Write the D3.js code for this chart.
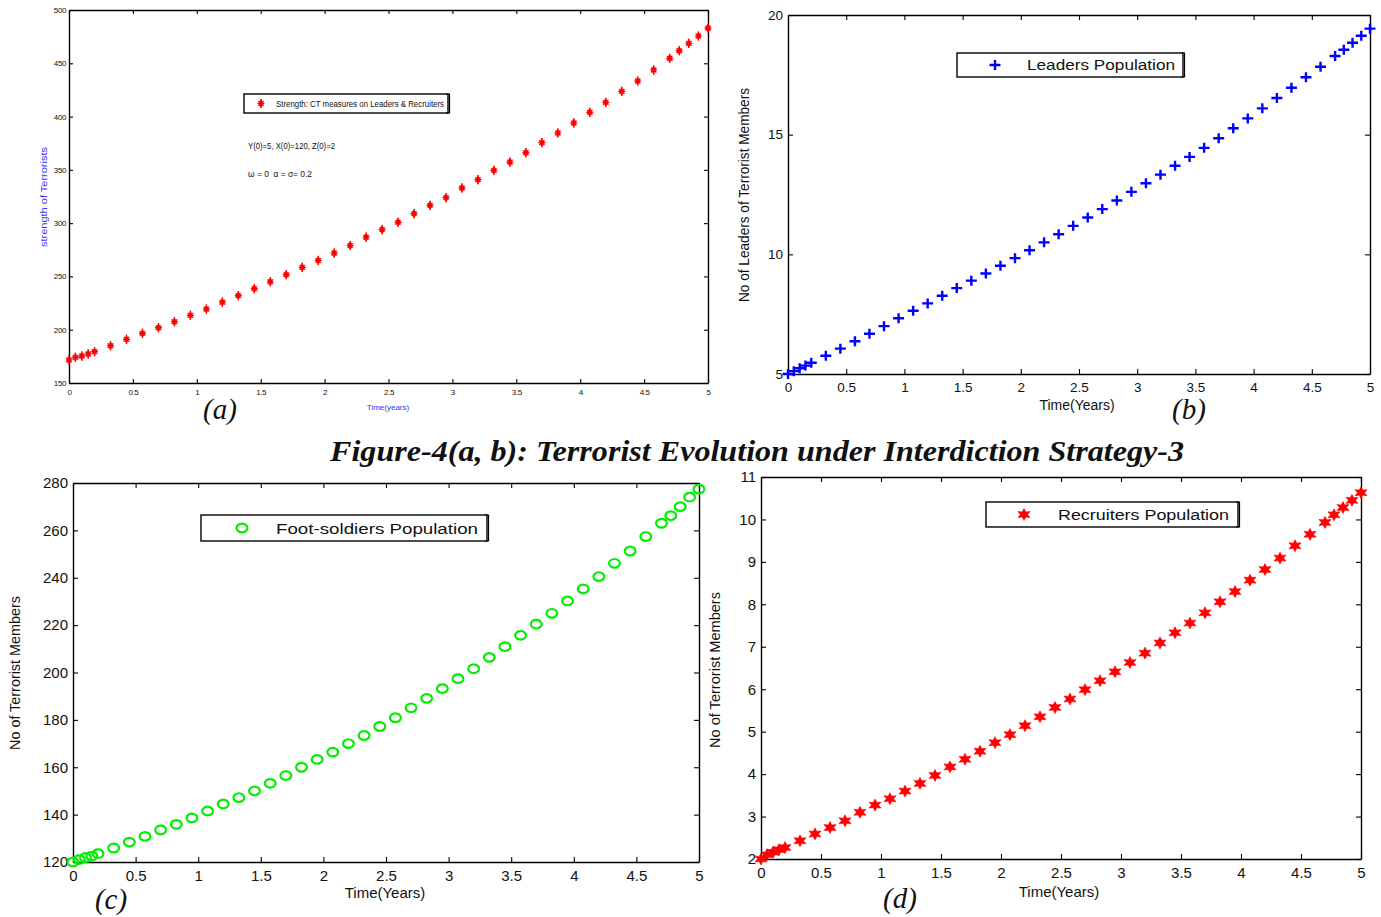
<!DOCTYPE html>
<html>
<head>
<meta charset="utf-8">
<script src="https://cdn.jsdelivr.net/npm/d3@7"></script>
<style>
  html, body { margin: 0; padding: 0; background: #fff; }
  svg { display: block; }
  text { font-family: "Liberation Sans", Arial, sans-serif; }
</style>
</head>
<body>
<svg id="fig" width="1381" height="917"></svg>
<script>
// Solver output times (years)
const timeYears = [0, 0.05, 0.1, 0.15, 0.2, 0.325, 0.45, 0.575, 0.7, 0.825, 0.95, 1.075, 1.2, 1.325, 1.45,
  1.575, 1.7, 1.825, 1.95, 2.075, 2.2, 2.325, 2.45, 2.575, 2.7, 2.825, 2.95, 3.075, 3.2, 3.325, 3.45,
  3.575, 3.7, 3.825, 3.95, 4.075, 4.2, 4.325, 4.45, 4.575, 4.7, 4.775, 4.85, 4.925, 5];

// Overall strength under CT measures on leaders & recruiters
const strengthTotal = [171.6, 174.1, 175.3, 177.2, 179.4, 185, 191, 196.6, 201.9, 207.5, 213.5, 219.3, 225.8, 232, 238.5,
  245, 251.6, 258.5, 265, 271.9, 279, 286.8, 293.9, 300.8, 308.9, 316.7, 323.9, 333, 340.8, 349.5, 357.3,
  366.1, 375.5, 384.6, 394, 404, 413.3, 423.6, 433.4, 443.7, 454.7, 461.8, 468.7, 475.6, 483];

// Leaders population Y(t)
const leaders = [5.0, 5.12, 5.24, 5.35, 5.47, 5.76, 6.06, 6.37, 6.68, 7.0, 7.33, 7.64, 7.95, 8.27, 8.59,
  8.9, 9.2, 9.52, 9.84, 10.17, 10.5, 10.84, 11.19, 11.54, 11.89, 12.25, 12.61, 12.97, 13.33, 13.7, 14.07,
  14.45, 14.85, 15.27, 15.68, 16.1, 16.53, 16.96, 17.4, 17.84, 18.29, 18.55, 18.84, 19.13, 19.43];

// Foot-soldiers population X(t)
const footSoldiers = [120, 121.0, 121.9, 122.5, 123.5, 125.9, 128.4, 130.8, 133.5, 135.9, 138.6, 141.5, 144.5, 147.2, 150.0,
  153.2, 156.5, 160.0, 163.3, 166.4, 170.0, 173.4, 177.2, 180.9, 185.1, 189.1, 193.2, 197.4, 201.6, 206.4, 210.9,
  215.7, 220.4, 225.0, 230.2, 235.3, 240.5, 246.1, 251.3, 257.4, 263.0, 266.2, 270.0, 274.0, 277.4];

// Recruiters population Z(t)
const recruiters = [2.0, 2.1, 2.16, 2.22, 2.27, 2.43, 2.59, 2.74, 2.9, 3.1, 3.27, 3.42, 3.6, 3.78, 3.97,
  4.17, 4.35, 4.54, 4.74, 4.93, 5.14, 5.35, 5.57, 5.77, 5.99, 6.2, 6.41, 6.63, 6.85, 7.09, 7.33,
  7.56, 7.8, 8.06, 8.3, 8.57, 8.82, 9.09, 9.38, 9.65, 9.93, 10.11, 10.28, 10.45, 10.63];

// Tick values
const timeTicks = [0, 0.5, 1, 1.5, 2, 2.5, 3, 3.5, 4, 4.5, 5];
const strengthTicks = [150, 200, 250, 300, 350, 400, 450, 500];
const leaderTicks = [5, 10, 15, 20];
const footTicks = [120, 140, 160, 180, 200, 220, 240, 260, 280];
const recruiterTicks = [2, 3, 4, 5, 6, 7, 8, 9, 10, 11];

const svg = d3.select("#fig");

// Hexagram (six-pointed star) path centred at origin
function hexagram(rx, ry, inner) {
  const pts = [];
  for (let i = 0; i < 12; i++) {
    const a = -Math.PI / 2 + i * Math.PI / 6;
    const r = i % 2 === 0 ? 1 : inner;
    pts.push([Math.cos(a) * rx * r, Math.sin(a) * ry * r]);
  }
  return "M" + pts.map(p => p[0].toFixed(2) + "," + p[1].toFixed(2)).join("L") + "Z";
}

function drawMarker(g, kind, color) {
  if (kind === "plus") {
    g.append("path").attr("d", "M-5.5,0H5.5M0,-5V5")
      .attr("stroke", color).attr("stroke-width", 2.4).attr("fill", "none");
  } else if (kind === "circle") {
    g.append("ellipse").attr("rx", 5.4).attr("ry", 4.3)
      .attr("stroke", color).attr("stroke-width", 2.2).attr("fill", "none");
  } else if (kind === "hexSmall") {
    g.append("path").attr("d", hexagram(3.2, 4.6, 0.55)).attr("fill", color)
      .attr("stroke", color).attr("stroke-width", 0.5);
    g.append("path").attr("d", "M-3.5,0H3.5M0,-4.6V4.6")
      .attr("stroke", color).attr("stroke-width", 1.2).attr("fill", "none");
  } else {
    g.append("path").attr("d", hexagram(7, 6, 0.5)).attr("fill", color)
      .attr("stroke", color).attr("stroke-width", 0.6);
  }
}

function panel(cfg) {
  const x = d3.scaleLinear().domain([0, 5]).range([cfg.left, cfg.right]);
  const y = d3.scaleLinear().domain(cfg.yDomain).range([cfg.bottom, cfg.top]);
  const g = svg.append("g");
  const fs = cfg.tickFont;
  const tl = cfg.tickLen;
  const fmt = d => String(d);

  const bottom = g.append("g").attr("transform", `translate(0,${cfg.bottom})`)
    .call(d3.axisBottom(x).tickValues(timeTicks).tickFormat(fmt).tickSizeInner(-tl).tickSizeOuter(0).tickPadding(cfg.xPad));
  const top = g.append("g").attr("transform", `translate(0,${cfg.top})`)
    .call(d3.axisTop(x).tickValues(timeTicks).tickFormat("").tickSizeInner(-tl).tickSizeOuter(0));
  const left = g.append("g").attr("transform", `translate(${cfg.left},0)`)
    .call(d3.axisLeft(y).tickValues(cfg.yTicks).tickFormat(fmt).tickSizeInner(-tl).tickSizeOuter(0).tickPadding(cfg.yPad));
  const right = g.append("g").attr("transform", `translate(${cfg.right},0)`)
    .call(d3.axisRight(y).tickValues(cfg.yTicks).tickFormat("").tickSizeInner(-tl).tickSizeOuter(0));

  [bottom, top, left, right].forEach(a => {
    a.selectAll(".domain").attr("stroke", "#000").attr("stroke-width", 1.4);
    a.selectAll(".tick line").attr("stroke", "#000").attr("stroke-width", 1.1);
    a.selectAll("text").attr("fill", "#111").style("font-size", fs + "px")
      .style("font-family", "'Liberation Sans', Arial, sans-serif");
  });
  if (cfg.narrowTicks) {
    [bottom, left].forEach(a => a.selectAll("text").style("letter-spacing", "-0.4px"));
  }

  // data markers
  const pts = g.append("g");
  timeYears.forEach((t, i) => {
    const m = pts.append("g").attr("transform", `translate(${x(t)},${y(cfg.values[i])})`);
    drawMarker(m, cfg.marker, cfg.color);
  });

  // axis titles
  g.append("text").attr("x", cfg.xTitle[0]).attr("y", cfg.xTitle[1])
    .attr("text-anchor", "middle").attr("fill", cfg.titleColor)
    .style("font-size", cfg.xTitleFont + "px").text(cfg.xTitleText);
  g.append("text").attr("transform", `translate(${cfg.yTitle[0]},${cfg.yTitle[1]}) rotate(-90)`)
    .attr("text-anchor", "middle").attr("fill", cfg.titleColor)
    .attr("textLength", cfg.yTitleLen).attr("lengthAdjust", "spacingAndGlyphs")
    .style("font-size", cfg.yTitleFont + "px").text(cfg.yTitleText);

  // legend
  const L = cfg.legend;
  g.append("rect").attr("x", L.x).attr("y", L.y).attr("width", L.w).attr("height", L.h)
    .attr("fill", "#fff").attr("stroke", "#000").attr("stroke-width", 1.4);
  g.append("path").attr("d", `M${L.x + L.w - 2},${L.y}H${L.x + L.w + 1.5}V${L.y + L.h}H${L.x + L.w - 2}`)
    .attr("fill", "none").attr("stroke", "#000").attr("stroke-width", 1.2);
  const lm = g.append("g").attr("transform", `translate(${L.mx},${L.y + L.h / 2})`);
  drawMarker(lm, cfg.marker, cfg.color);
  g.append("text").attr("x", L.tx).attr("y", L.y + L.h / 2).attr("dy", "0.36em")
    .attr("textLength", L.tlen).attr("lengthAdjust", "spacingAndGlyphs")
    .attr("fill", "#111").style("font-size", L.font + "px").text(L.text);

  return g;
}

// (a) overall strength
const ga = panel({
  left: 69, right: 708, top: 10, bottom: 383, yDomain: [150, 500], yTicks: strengthTicks,
  tickFont: 8, tickLen: 4, xPad: 6, yPad: 3, narrowTicks: true,
  values: strengthTotal, marker: "hexSmall", color: "#ff0000",
  xTitle: [388, 410], xTitleText: "Time(years)", xTitleFont: 8, titleColor: "#3333ff",
  yTitle: [47, 197], yTitleText: "strength of Terrorists", yTitleFont: 8.5, yTitleLen: 100,
  legend: { x: 244, y: 94, w: 204, h: 19, mx: 261, tx: 276, tlen: 168, font: 8.5,
    text: "Strength: CT measures on Leaders & Recruiters" }
});
ga.append("text").attr("x", 248).attr("y", 149).attr("fill", "#111")
  .attr("textLength", 87).attr("lengthAdjust", "spacingAndGlyphs")
  .style("font-size", "8.5px").text("Y(0)=5, X(0)=120, Z(0)=2");
ga.append("text").attr("x", 248).attr("y", 177).attr("fill", "#111")
  .attr("xml:space", "preserve").style("white-space", "pre")
  .attr("textLength", 64).attr("lengthAdjust", "spacingAndGlyphs")
  .style("font-size", "9px").text("\u03C9 = 0  \u03B1 = \u03C3= 0.2");

// (b) leaders
panel({
  left: 788, right: 1370, top: 15, bottom: 374, yDomain: [5, 20], yTicks: leaderTicks,
  tickFont: 13.5, tickLen: 5, xPad: 8, yPad: 5,
  values: leaders, marker: "plus", color: "#0000ff",
  xTitle: [1077, 410], xTitleText: "Time(Years)", xTitleFont: 14, titleColor: "#111",
  yTitle: [749, 195], yTitleText: "No of Leaders of Terrorist Members", yTitleFont: 14, yTitleLen: 214,
  legend: { x: 957, y: 53, w: 226, h: 24, mx: 995, tx: 1027, tlen: 148, font: 14,
    text: "Leaders Population" }
});

// (c) foot-soldiers
panel({
  left: 73, right: 699, top: 483, bottom: 862, yDomain: [120, 280], yTicks: footTicks,
  tickFont: 15, tickLen: 5, xPad: 8, yPad: 5,
  values: footSoldiers, marker: "circle", color: "#00ee00",
  xTitle: [385, 898], xTitleText: "Time(Years)", xTitleFont: 15, titleColor: "#111",
  yTitle: [20, 673], yTitleText: "No of Terrorist Members", yTitleFont: 15, yTitleLen: 154,
  legend: { x: 201, y: 515, w: 286, h: 26, mx: 242, tx: 276, tlen: 202, font: 15.5,
    text: "Foot-soldiers Population" }
});

// (d) recruiters
panel({
  left: 761, right: 1361, top: 477, bottom: 859, yDomain: [2, 11], yTicks: recruiterTicks,
  tickFont: 15, tickLen: 5, xPad: 8, yPad: 5,
  values: recruiters, marker: "hex", color: "#ff0000",
  xTitle: [1059, 897], xTitleText: "Time(Years)", xTitleFont: 15, titleColor: "#111",
  yTitle: [720, 670], yTitleText: "No of Terrorist Members", yTitleFont: 15, yTitleLen: 156,
  legend: { x: 986, y: 502, w: 252, h: 25, mx: 1024, tx: 1058, tlen: 171, font: 15.5,
    text: "Recruiters Population" }
});

// sub-figure labels
const serif = "'Liberation Serif', 'Times New Roman', serif";
[["(a)", 220, 419], ["(b)", 1189, 419], ["(c)", 111, 909], ["(d)", 900, 908]].forEach(([s, x, y]) => {
  svg.append("text").attr("x", x).attr("y", y).attr("text-anchor", "middle")
    .style("font-family", serif).style("font-style", "italic").style("font-size", "29px")
    .attr("fill", "#111").text(s);
});

// caption
svg.append("text").attr("x", 757).attr("y", 461).attr("text-anchor", "middle")
  .attr("textLength", 854).attr("lengthAdjust", "spacingAndGlyphs")
  .style("font-family", serif).style("font-style", "italic").style("font-weight", "bold")
  .style("font-size", "29px").attr("fill", "#111")
  .text("Figure-4(a, b): Terrorist Evolution under Interdiction Strategy-3");
</script>
</body>
</html>
